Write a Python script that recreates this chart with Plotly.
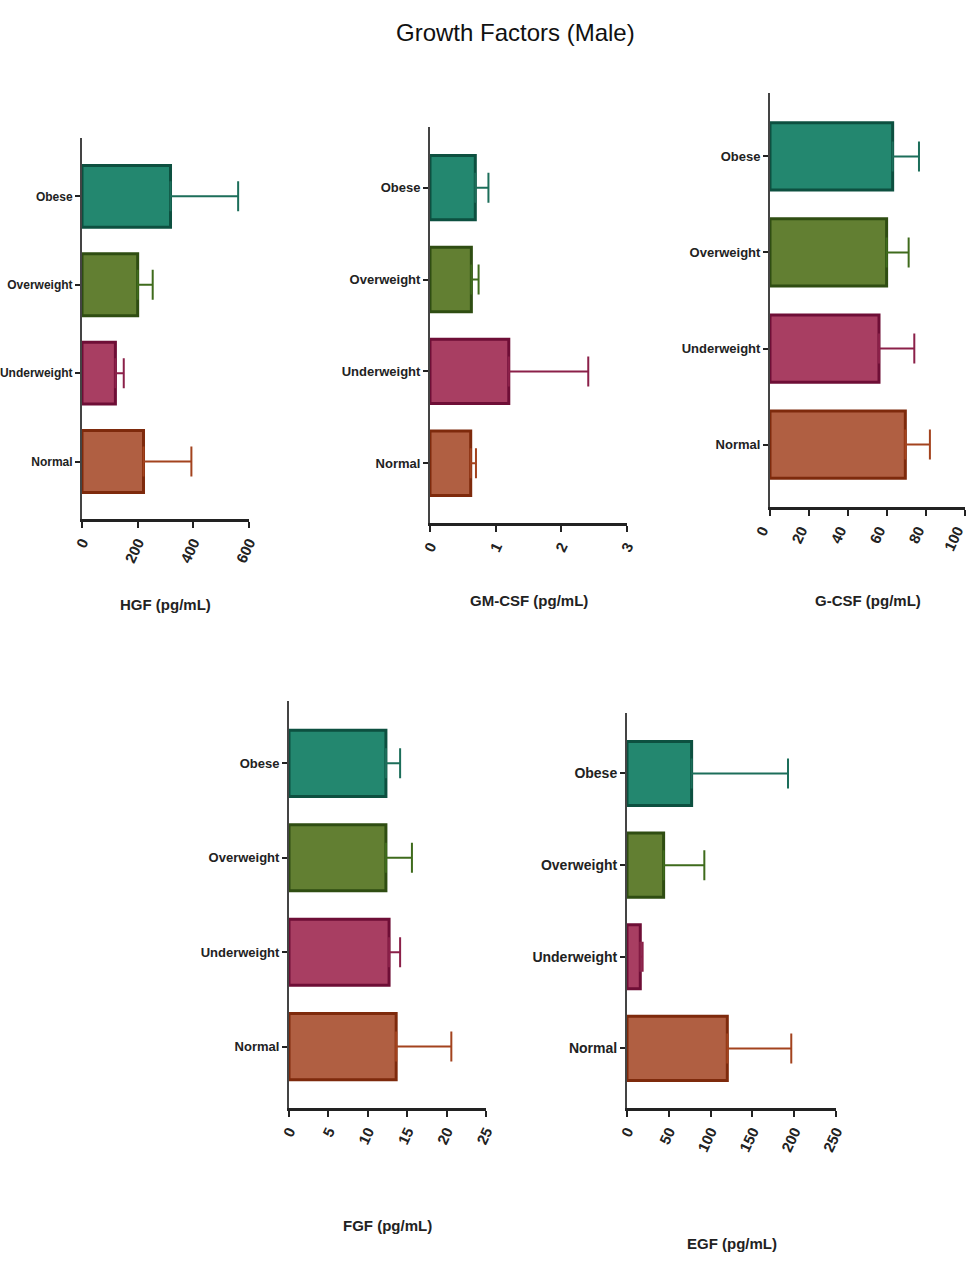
import plotly.graph_objects as go

W, H = 968, 1261

categories = ["Normal", "Underweight", "Overweight", "Obese"]

hgf_mean = [221, 120, 200, 318]
hgf_err = [172, 30, 54, 243]

gmcsf_mean = [0.62, 1.20, 0.63, 0.69]
gmcsf_err = [0.08, 1.21, 0.11, 0.20]

gcsf_mean = [69.4, 55.9, 59.8, 62.9]
gcsf_err = [12.6, 18.1, 11.3, 13.5]

fgf_mean = [13.6, 12.7, 12.3, 12.3]
fgf_err = [7.0, 1.4, 3.3, 1.8]

egf_mean = [120, 15.9, 43.8, 77.3]
egf_err = [76.5, 2.8, 48.7, 115.3]

fill_colors = {"Normal": "#b05f42", "Underweight": "#a83e62", "Overweight": "#627f32", "Obese": "#23876f"}
line_colors = {"Normal": "#7e2a0c", "Underweight": "#6e0e36", "Overweight": "#2f4d12", "Obese": "#0d5040"}
err_colors = {"Normal": "#a3431e", "Underweight": "#8b2049", "Overweight": "#3f6b1c", "Obese": "#1c6e5a"}

panels = [
    dict(mean=hgf_mean, err=hgf_err, x0=82, x1=249, yt=138, yb=519, xmax=600, dtick=200,
         title="HGF (pg/mL)", ty=604, fs=12, shift=0),
    dict(mean=gmcsf_mean, err=gmcsf_err, x0=430, x1=627, yt=127, yb=523, xmax=3, dtick=1,
         title="GM-CSF (pg/mL)", ty=600, fs=13, shift=0),
    dict(mean=gcsf_mean, err=gcsf_err, x0=770, x1=965, yt=93, yb=507, xmax=100, dtick=20,
         title="G-CSF (pg/mL)", ty=600, fs=13, shift=-8),
    dict(mean=fgf_mean, err=fgf_err, x0=289, x1=486, yt=701, yb=1108, xmax=25, dtick=5,
         title="FGF (pg/mL)", ty=1225, fs=13, shift=0),
    dict(mean=egf_mean, err=egf_err, x0=627, x1=836, yt=713, yb=1108, xmax=250, dtick=50,
         title="EGF (pg/mL)", ty=1243, fs=14, shift=0),
]


def px_x(v):
    return v / W


def px_y(v):
    return (H - v) / H


FONT = "Liberation Sans, Arial, sans-serif"

fig = go.Figure()
layout = dict(
    width=W, height=H,
    margin=dict(l=0, r=0, t=0, b=0),
    paper_bgcolor="white", plot_bgcolor="white",
    showlegend=False, barmode="overlay",
    annotations=[],
)

for i, p in enumerate(panels):
    n = "" if i == 0 else str(i + 1)
    xa, ya = "x" + n, "y" + n
    for c, m, e in zip(categories, p["mean"], p["err"]):
        fig.add_trace(go.Bar(
            x=[m], y=[c], orientation="h", xaxis=xa, yaxis=ya, width=0.7,
            marker=dict(color=fill_colors[c], line=dict(color=line_colors[c], width=3)),
            error_x=dict(type="data", array=[e], arrayminus=[0], symmetric=False,
                         color=err_colors[c], thickness=2, width=15),
        ))
    layout["xaxis" + n] = dict(
        domain=[px_x(p["x0"]), px_x(p["x1"])], anchor=ya, range=[0, p["xmax"]],
        tick0=0, dtick=p["dtick"], showline=True, linecolor="#222", linewidth=3,
        ticks="outside", ticklen=6, tickwidth=2, tickcolor="#222", tickangle=-65,
        showgrid=False, zeroline=False, automargin=False, ticklabeloverflow="allow",
        ticklabelshift=p["shift"],
        tickfont=dict(family=FONT, size=15, color="#222", weight="bold"),
    )
    layout["yaxis" + n] = dict(
        domain=[px_y(p["yb"]), px_y(p["yt"])], anchor=xa,
        type="category", categoryorder="array", categoryarray=categories,
        range=[-0.65, 3.66], showline=True, linecolor="#444", linewidth=2,
        ticks="outside", ticklen=5, tickwidth=2, tickcolor="#222",
        showgrid=False, zeroline=False, automargin=False, ticklabeloverflow="allow",
        tickfont=dict(family=FONT, size=p["fs"], color="#222", weight="bold"),
    )
    layout["annotations"].append(dict(
        text=p["title"], xref="paper", yref="paper",
        x=px_x((p["x0"] + p["x1"]) / 2), y=px_y(p["ty"]),
        xanchor="center", yanchor="middle", showarrow=False,
        font=dict(family=FONT, size=15, color="#222", weight="bold"),
    ))

layout["annotations"].append(dict(
    text="Growth Factors (Male)", xref="paper", yref="paper",
    x=px_x(515), y=px_y(32), xanchor="center", yanchor="middle", showarrow=False,
    font=dict(family=FONT, size=24, color="#111"),
))

fig.update_layout(**layout)
fig.write_html(
    "out.html",
    config={"displayModeBar": False},
    post_script="document.body.style.margin='0';document.body.style.overflow='hidden';",
)
